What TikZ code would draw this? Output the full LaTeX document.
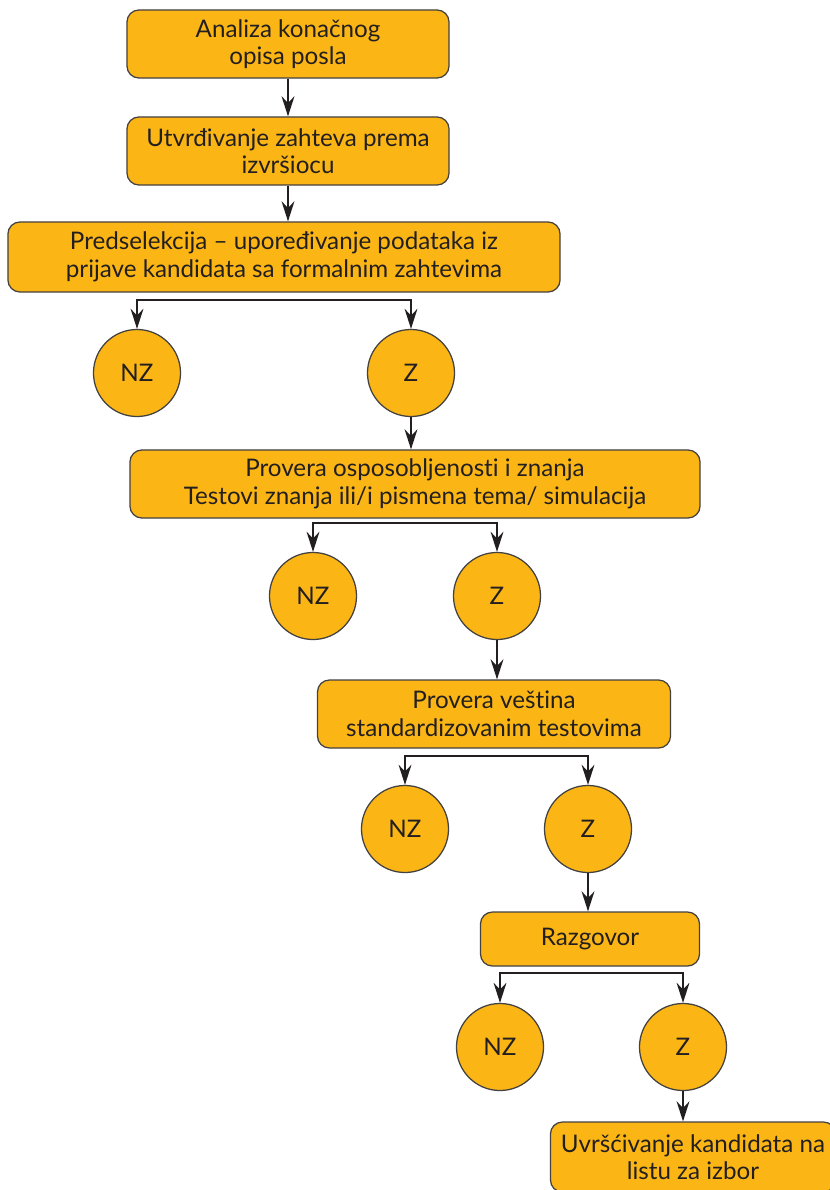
\documentclass[tikz,border=0pt]{standalone}
\usepackage{fontspec}
\setmainfont[Ligatures={TeX,NoCommon}]{Lato}
\usepackage{xcolor}
\usetikzlibrary{arrows.meta, positioning, calc}
\definecolor{stagefill}{HTML}{FBB616}
\definecolor{inkline}{HTML}{231F20}
\tikzset{
    stage/.style={
        rectangle,
        draw=inkline!85,
        line width=0.9pt,
        rounded corners=0.3cm,
        fill=stagefill,
        text=inkline,
        align=center,
        inner sep=0pt,
        font=\fontsize{17.2}{19.6}\selectfont
    },
    decision/.style={
        circle,
        draw=inkline!85,
        line width=0.9pt,
        fill=stagefill,
        text=inkline,
        minimum size=2.175cm,
        inner sep=0pt,
        font=\fontsize{17.2}{19.6}\selectfont
    },
    wire/.style={
        draw=inkline,
        line width=1.3pt,
        -{Stealth[length=5mm,width=3.2mm]}
    },
    fork/.style={
        draw=inkline,
        line width=1.3pt,
        {Stealth[length=5mm,width=3.2mm]}-{Stealth[length=5mm,width=3.2mm]}
    }
}
\begin{document}
\begin{tikzpicture}[x=0.025cm, y=-0.025cm]
\useasboundingbox (0,0) rectangle (829,1190);

% Job description and requirements
\node[stage, minimum width=8.05cm, minimum height=1.7cm] (analiza) at (288,44) {Analiza konačnog\\opisa posla};
\node[stage, minimum width=8.05cm, minimum height=1.7cm] (zahtevi) at (288,151) {Utvrđivanje zahteva prema\\izvršiocu};

% Preselection
\node[stage, minimum width=13.8cm, minimum height=1.75cm] (predsel) at (284,257) {Predselekcija – upoređivanje podataka iz\\prijave kandidata sa formalnim zahtevima};
\coordinate (split1) at (284,300);
\node[decision] (nz1) at (137,373) {NZ};
\node[decision] (z1) at (411,373) {Z};

% Knowledge test
\node[stage, minimum width=14.25cm, minimum height=1.7cm] (znanje) at (415,484) {Provera osposobljenosti i znanja\\Testovi znanja ili/i pismena tema/ simulacija};
\coordinate (split2) at (415,523);
\node[decision] (nz2) at (313,596) {NZ};
\node[decision] (z2) at (497,596) {Z};

% Skills test
\node[stage, minimum width=8.825cm, minimum height=1.7cm] (vestine) at (494,714) {Provera veština\\standardizovanim testovima};
\coordinate (split3) at (494,756);
\node[decision] (nz3) at (405,829) {NZ};
\node[decision] (z3) at (588,829) {Z};

% Interview
\node[stage, minimum width=5.475cm, minimum height=1.35cm] (razgovor) at (590,939) {Razgovor};
\coordinate (split4) at (590,973);
\node[decision] (nz4) at (500,1047) {NZ};
\node[decision] (z4) at (683,1047) {Z};

% Final list
\node[stage, minimum width=7.125cm, minimum height=1.75cm] (lista) at (693,1157) {Uvršćivanje kandidata na\\listu za izbor};

% Flow
\draw[wire] (analiza) -- (zahtevi);
\draw[wire] (zahtevi.south) -- (zahtevi.south |- predsel.north);
\draw[fork] (nz1.north) -- (nz1.north |- split1) -- (z1.north |- split1) -- (z1.north);
\draw[wire] (z1.south) -- (z1.south |- znanje.north);
\draw[fork] (nz2.north) -- (nz2.north |- split2) -- (z2.north |- split2) -- (z2.north);
\draw[wire] (z2.south) -- (z2.south |- vestine.north);
\draw[fork] (nz3.north) -- (nz3.north |- split3) -- (z3.north |- split3) -- (z3.north);
\draw[wire] (z3.south) -- (z3.south |- razgovor.north);
\draw[fork] (nz4.north) -- (nz4.north |- split4) -- (z4.north |- split4) -- (z4.north);
\draw[wire] (z4.south) -- (z4.south |- lista.north);

\end{tikzpicture}
\end{document}
